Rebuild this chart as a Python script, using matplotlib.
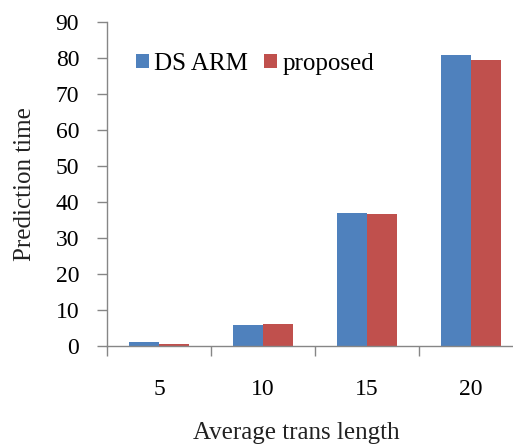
import numpy as np
import matplotlib
matplotlib.use('Agg')
import matplotlib.pyplot as plt

# Prediction time per average transaction length
trans_lengths = ['5', '10', '15', '20']
ds_arm = [0.9, 5.8, 37.0, 80.7]
proposed = [0.5, 6.1, 36.6, 79.5]

plt.rcParams['font.family'] = ['Liberation Serif', 'DejaVu Serif']

fig = plt.figure(figsize=(5.13, 4.44), dpi=100)
# axes run slightly past the right edge of the canvas
ax = fig.add_axes([107 / 513, 98.5 / 444, 416 / 513, 323.5 / 444])

x = np.arange(len(trans_lengths))
width = 0.285
ax.bar(x - width / 2, ds_arm, width, color='#4F81BD', label='DS ARM')
ax.bar(x + width / 2, proposed, width, color='#C0504D', label='proposed')

ax.set_xlim(-0.5, len(trans_lengths) - 0.5)
ax.set_ylim(0, 90)
ax.set_yticks(np.arange(0, 91, 10))

# category labels centred, tick marks on the category boundaries
ax.set_xticks(x)
ax.set_xticklabels(trans_lengths)
ax.set_xticks(np.arange(-0.5, len(trans_lengths), 1), minor=True)
ax.tick_params(axis='x', which='major', length=0, pad=24, labelsize=17)
ax.tick_params(axis='x', which='minor', length=7, width=1, color='#868686')
ax.tick_params(axis='y', length=7, width=1, color='#868686', pad=13, labelsize=17)

for side in ['top', 'right']:
    ax.spines[side].set_visible(False)
for side in ['left', 'bottom']:
    ax.spines[side].set_color('#868686')
    ax.spines[side].set_linewidth(1)

ax.set_ylabel('Prediction time', fontsize=18, color='#222222', labelpad=14)
ax.set_xlabel('Average trans length', fontsize=18, color='#222222', labelpad=17)
ax.xaxis.set_label_coords(0.454, -0.235)

ax.legend(loc='upper left', bbox_to_anchor=(0.045, 0.935), ncol=2, frameon=False,
          fontsize=18, handlelength=0.52, handleheight=0.52, handletextpad=0.22,
          columnspacing=0.64, borderaxespad=0)

fig.savefig('out.png', dpi=100)
